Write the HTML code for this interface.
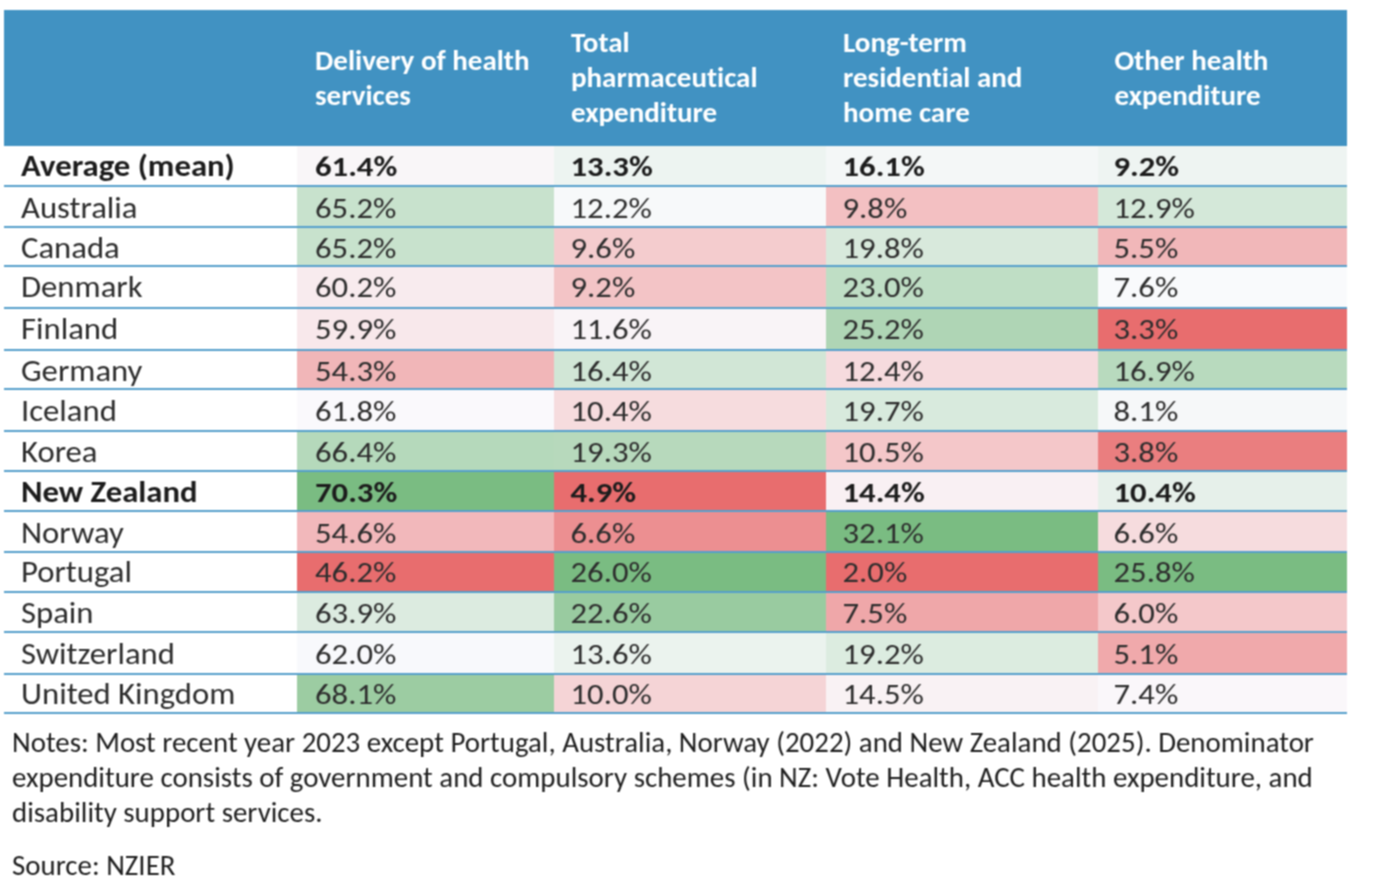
<!DOCTYPE html><html><head><meta charset="utf-8"><style>
*{margin:0;padding:0;box-sizing:border-box}
html,body{width:1376px;height:890px;background:#fff;overflow:hidden}
body{position:relative;font-family:Carlito,"Liberation Sans",sans-serif;color:#3a3a3a;font-variant-ligatures:none;font-feature-settings:"liga" 0,"clig" 0}
#w{position:absolute;left:0;top:0;width:1376px;height:890px;filter:url(#f)}
.hd{position:absolute;left:4px;top:10px;width:1342.5px;height:136.3px;background:#4192c2}
.ht{position:absolute;color:#fff;font-weight:bold;font-size:29px;line-height:35px;white-space:nowrap}
.c{position:absolute}
.t{position:absolute;font-size:32.7px;line-height:40px;white-space:nowrap;color:#2d2d2d}
.n{transform:scaleY(0.89);transform-origin:0 31.17px}
.nm{transform:scaleY(0.95);transform-origin:0 31.17px}
.t.b{font-weight:bold;color:#1c1c1c}
.ln{position:absolute;left:4px;width:1342.5px;height:2px;background:#559fcb}
.note{position:absolute;left:12px;font-size:28.9px;line-height:34.8px;white-space:nowrap;color:#1e1e1e;transform:scaleY(0.96);transform-origin:0 27.27px}
</style></head><body><svg width="0" height="0" style="position:absolute"><filter id="f" x="0" y="0" width="100%" height="100%" color-interpolation-filters="sRGB"><feConvolveMatrix order="3" kernelMatrix="1 2 1 2 4 2 1 2 1" edgeMode="duplicate"/></filter></svg><div id="w">
<div class="hd"></div>
<div class="ht" style="left:315px;top:42.7px">Delivery of health<br>services</div>
<div class="ht" style="left:571px;top:24.7px">Total<br>pharmaceutical<br>expenditure</div>
<div class="ht" style="left:843px;top:24.7px">Long-term<br>residential and<br>home care</div>
<div class="ht" style="left:1114.5px;top:42.7px">Other health<br>expenditure</div>

<div class="c" style="left:297px;top:146.3px;width:257.0px;height:39.40px;background:#f9f6f8"></div>
<div class="c" style="left:554px;top:146.3px;width:272.3px;height:39.40px;background:#edf4f1"></div>
<div class="c" style="left:826.3px;top:146.3px;width:271.7px;height:39.40px;background:#f4f7f7"></div>
<div class="c" style="left:1098px;top:146.3px;width:248.5px;height:39.40px;background:#eef4f2"></div>
<div class="t nm b" style="left:21px;top:145.23px">Average (mean)</div>
<div class="t n b" style="left:315px;top:145.23px">61.4%</div>
<div class="t n b" style="left:570.5px;top:145.23px">13.3%</div>
<div class="t n b" style="left:842.5px;top:145.23px">16.1%</div>
<div class="t n b" style="left:1113.5px;top:145.23px">9.2%</div>
<div class="c" style="left:297px;top:185.7px;width:257.0px;height:41.15px;background:#c8e2cd"></div>
<div class="c" style="left:554px;top:185.7px;width:272.3px;height:41.15px;background:#f7f9fa"></div>
<div class="c" style="left:826.3px;top:185.7px;width:271.7px;height:41.15px;background:#f3c0c2"></div>
<div class="c" style="left:1098px;top:185.7px;width:248.5px;height:41.15px;background:#d4e8d9"></div>
<div class="t nm" style="left:21px;top:187.03px">Australia</div>
<div class="t n" style="left:315px;top:187.03px">65.2%</div>
<div class="t n" style="left:570.5px;top:187.03px">12.2%</div>
<div class="t n" style="left:842.5px;top:187.03px">9.8%</div>
<div class="t n" style="left:1113.5px;top:187.03px">12.9%</div>
<div class="c" style="left:297px;top:226.85px;width:257.0px;height:39.55px;background:#c8e2cd"></div>
<div class="c" style="left:554px;top:226.85px;width:272.3px;height:39.55px;background:#f4ccce"></div>
<div class="c" style="left:826.3px;top:226.85px;width:271.7px;height:39.55px;background:#d8e9dc"></div>
<div class="c" style="left:1098px;top:226.85px;width:248.5px;height:39.55px;background:#f1b7b9"></div>
<div class="t nm" style="left:21px;top:226.83px">Canada</div>
<div class="t n" style="left:315px;top:226.83px">65.2%</div>
<div class="t n" style="left:570.5px;top:226.83px">9.6%</div>
<div class="t n" style="left:842.5px;top:226.83px">19.8%</div>
<div class="t n" style="left:1113.5px;top:226.83px">5.5%</div>
<div class="c" style="left:297px;top:266.4px;width:257.0px;height:41.80px;background:#f8ebee"></div>
<div class="c" style="left:554px;top:266.4px;width:272.3px;height:41.80px;background:#f3c4c6"></div>
<div class="c" style="left:826.3px;top:266.4px;width:271.7px;height:41.80px;background:#bfdec5"></div>
<div class="c" style="left:1098px;top:266.4px;width:248.5px;height:41.80px;background:#f9fafc"></div>
<div class="t nm" style="left:21px;top:266.23px">Denmark</div>
<div class="t n" style="left:315px;top:266.23px">60.2%</div>
<div class="t n" style="left:570.5px;top:266.23px">9.2%</div>
<div class="t n" style="left:842.5px;top:266.23px">23.0%</div>
<div class="t n" style="left:1113.5px;top:266.23px">7.6%</div>
<div class="c" style="left:297px;top:308.2px;width:257.0px;height:41.30px;background:#f8e8eb"></div>
<div class="c" style="left:554px;top:308.2px;width:272.3px;height:41.30px;background:#f9f4f7"></div>
<div class="c" style="left:826.3px;top:308.2px;width:271.7px;height:41.30px;background:#afd5b5"></div>
<div class="c" style="left:1098px;top:308.2px;width:248.5px;height:41.30px;background:#e86d6e"></div>
<div class="t nm" style="left:21px;top:308.13px">Finland</div>
<div class="t n" style="left:315px;top:308.13px">59.9%</div>
<div class="t n" style="left:570.5px;top:308.13px">11.6%</div>
<div class="t n" style="left:842.5px;top:308.13px">25.2%</div>
<div class="t n" style="left:1113.5px;top:308.13px">3.3%</div>
<div class="c" style="left:297px;top:349.5px;width:257.0px;height:39.80px;background:#f1b6b8"></div>
<div class="c" style="left:554px;top:349.5px;width:272.3px;height:39.80px;background:#d1e6d6"></div>
<div class="c" style="left:826.3px;top:349.5px;width:271.7px;height:39.80px;background:#f6dbde"></div>
<div class="c" style="left:1098px;top:349.5px;width:248.5px;height:39.80px;background:#b8dabe"></div>
<div class="t nm" style="left:21px;top:350.03px">Germany</div>
<div class="t n" style="left:315px;top:350.03px">54.3%</div>
<div class="t n" style="left:570.5px;top:350.03px">16.4%</div>
<div class="t n" style="left:842.5px;top:350.03px">12.4%</div>
<div class="t n" style="left:1113.5px;top:350.03px">16.9%</div>
<div class="c" style="left:297px;top:389.3px;width:257.0px;height:41.50px;background:#faf9fc"></div>
<div class="c" style="left:554px;top:389.3px;width:272.3px;height:41.50px;background:#f6dcde"></div>
<div class="c" style="left:826.3px;top:389.3px;width:271.7px;height:41.50px;background:#d8eadd"></div>
<div class="c" style="left:1098px;top:389.3px;width:248.5px;height:41.50px;background:#f6f8f9"></div>
<div class="t nm" style="left:21px;top:389.83px">Iceland</div>
<div class="t n" style="left:315px;top:389.83px">61.8%</div>
<div class="t n" style="left:570.5px;top:389.83px">10.4%</div>
<div class="t n" style="left:842.5px;top:389.83px">19.7%</div>
<div class="t n" style="left:1113.5px;top:389.83px">8.1%</div>
<div class="c" style="left:297px;top:430.8px;width:257.0px;height:40.10px;background:#b5d9bb"></div>
<div class="c" style="left:554px;top:430.8px;width:272.3px;height:40.10px;background:#b7d9bc"></div>
<div class="c" style="left:826.3px;top:430.8px;width:271.7px;height:40.10px;background:#f4c7c9"></div>
<div class="c" style="left:1098px;top:430.8px;width:248.5px;height:40.10px;background:#ea7e7f"></div>
<div class="t nm" style="left:21px;top:430.73px">Korea</div>
<div class="t n" style="left:315px;top:430.73px">66.4%</div>
<div class="t n" style="left:570.5px;top:430.73px">19.3%</div>
<div class="t n" style="left:842.5px;top:430.73px">10.5%</div>
<div class="t n" style="left:1113.5px;top:430.73px">3.8%</div>
<div class="c" style="left:297px;top:470.9px;width:257.0px;height:39.80px;background:#7abc82"></div>
<div class="c" style="left:554px;top:470.9px;width:272.3px;height:39.80px;background:#e86d6e"></div>
<div class="c" style="left:826.3px;top:470.9px;width:271.7px;height:39.80px;background:#f9f0f3"></div>
<div class="c" style="left:1098px;top:470.9px;width:248.5px;height:39.80px;background:#e6f0ea"></div>
<div class="t nm b" style="left:21px;top:470.73px">New Zealand</div>
<div class="t n b" style="left:315px;top:470.73px">70.3%</div>
<div class="t n b" style="left:570.5px;top:470.73px">4.9%</div>
<div class="t n b" style="left:842.5px;top:470.73px">14.4%</div>
<div class="t n b" style="left:1113.5px;top:470.73px">10.4%</div>
<div class="c" style="left:297px;top:510.7px;width:257.0px;height:41.10px;background:#f2b8bb"></div>
<div class="c" style="left:554px;top:510.7px;width:272.3px;height:41.10px;background:#ec8f91"></div>
<div class="c" style="left:826.3px;top:510.7px;width:271.7px;height:41.10px;background:#7abc82"></div>
<div class="c" style="left:1098px;top:510.7px;width:248.5px;height:41.10px;background:#f6dcde"></div>
<div class="t nm" style="left:21px;top:511.83px">Norway</div>
<div class="t n" style="left:315px;top:511.83px">54.6%</div>
<div class="t n" style="left:570.5px;top:511.83px">6.6%</div>
<div class="t n" style="left:842.5px;top:511.83px">32.1%</div>
<div class="t n" style="left:1113.5px;top:511.83px">6.6%</div>
<div class="c" style="left:297px;top:551.8px;width:257.0px;height:40.50px;background:#e86d6e"></div>
<div class="c" style="left:554px;top:551.8px;width:272.3px;height:40.50px;background:#7abc82"></div>
<div class="c" style="left:826.3px;top:551.8px;width:271.7px;height:40.50px;background:#e86d6e"></div>
<div class="c" style="left:1098px;top:551.8px;width:248.5px;height:40.50px;background:#7abc82"></div>
<div class="t nm" style="left:21px;top:551.33px">Portugal</div>
<div class="t n" style="left:315px;top:551.33px">46.2%</div>
<div class="t n" style="left:570.5px;top:551.33px">26.0%</div>
<div class="t n" style="left:842.5px;top:551.33px">2.0%</div>
<div class="t n" style="left:1113.5px;top:551.33px">25.8%</div>
<div class="c" style="left:297px;top:592.3px;width:257.0px;height:40.00px;background:#dcebe0"></div>
<div class="c" style="left:554px;top:592.3px;width:272.3px;height:40.00px;background:#99cba0"></div>
<div class="c" style="left:826.3px;top:592.3px;width:271.7px;height:40.00px;background:#efa7a9"></div>
<div class="c" style="left:1098px;top:592.3px;width:248.5px;height:40.00px;background:#f4c8ca"></div>
<div class="t nm" style="left:21px;top:591.73px">Spain</div>
<div class="t n" style="left:315px;top:591.73px">63.9%</div>
<div class="t n" style="left:570.5px;top:591.73px">22.6%</div>
<div class="t n" style="left:842.5px;top:591.73px">7.5%</div>
<div class="t n" style="left:1113.5px;top:591.73px">6.0%</div>
<div class="c" style="left:297px;top:632.3px;width:257.0px;height:41.30px;background:#f8f9fc"></div>
<div class="c" style="left:554px;top:632.3px;width:272.3px;height:41.30px;background:#ebf3ee"></div>
<div class="c" style="left:826.3px;top:632.3px;width:271.7px;height:41.30px;background:#dcece0"></div>
<div class="c" style="left:1098px;top:632.3px;width:248.5px;height:41.30px;background:#f0a9ab"></div>
<div class="t nm" style="left:21px;top:633.13px">Switzerland</div>
<div class="t n" style="left:315px;top:633.13px">62.0%</div>
<div class="t n" style="left:570.5px;top:633.13px">13.6%</div>
<div class="t n" style="left:842.5px;top:633.13px">19.2%</div>
<div class="t n" style="left:1113.5px;top:633.13px">5.1%</div>
<div class="c" style="left:297px;top:673.6px;width:257.0px;height:39.70px;background:#9ccca2"></div>
<div class="c" style="left:554px;top:673.6px;width:272.3px;height:39.70px;background:#f5d4d6"></div>
<div class="c" style="left:826.3px;top:673.6px;width:271.7px;height:39.70px;background:#f9f2f4"></div>
<div class="c" style="left:1098px;top:673.6px;width:248.5px;height:39.70px;background:#faf7fa"></div>
<div class="t nm" style="left:21px;top:672.63px">United Kingdom</div>
<div class="t n" style="left:315px;top:672.63px">68.1%</div>
<div class="t n" style="left:570.5px;top:672.63px">10.0%</div>
<div class="t n" style="left:842.5px;top:672.63px">14.5%</div>
<div class="t n" style="left:1113.5px;top:672.63px">7.4%</div>
<div class="ln" style="top:184.70px"></div>
<div class="ln" style="top:225.85px"></div>
<div class="ln" style="top:265.40px"></div>
<div class="ln" style="top:307.20px"></div>
<div class="ln" style="top:348.50px"></div>
<div class="ln" style="top:388.30px"></div>
<div class="ln" style="top:429.80px"></div>
<div class="ln" style="top:469.90px"></div>
<div class="ln" style="top:509.70px"></div>
<div class="ln" style="top:550.80px"></div>
<div class="ln" style="top:591.30px"></div>
<div class="ln" style="top:631.30px"></div>
<div class="ln" style="top:672.60px"></div>
<div class="ln" style="top:712.30px"></div>
<div class="note" style="top:725.1px">Notes: Most recent year 2023 except Portugal, Australia, Norway (2022) and New Zealand (2025). Denominator</div>
<div class="note" style="top:759.7px">expenditure consists of government and compulsory schemes (in NZ: Vote Health, ACC health expenditure, and</div>
<div class="note" style="top:794.7px">disability support services.</div>
<div class="note" style="top:848.2px">Source: NZIER</div>
</div></body></html>
